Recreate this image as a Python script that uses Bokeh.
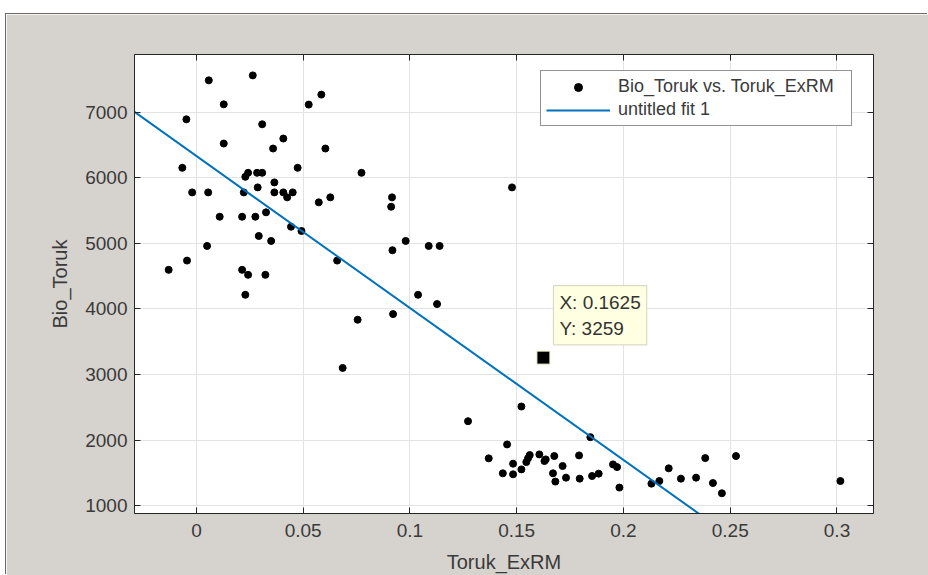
from bokeh.plotting import figure
from bokeh.models import (Range1d, FixedTicker, LinearAxis, Legend, LegendItem,
                          Label, Spacer, ColumnDataSource)
from bokeh.layouts import column
from bokeh.embed import file_html
from bokeh.resources import INLINE

# ---------------- data ----------------
toruk_exrm = [0.0058, 0.0264, 0.0128, -0.0047, 0.0308, 0.0407, 0.0128, 0.0359, 0.0526, 0.0585,
              0.0604, -0.0066, 0.0229, 0.0242, 0.0284, 0.0308, 0.0474, 0.0773, -0.002, 0.0055,
              0.0222, 0.0287, 0.0365, 0.0365, 0.0407, 0.0425, 0.0451, 0.0573, 0.0627, 0.0916,
              0.0912, 0.0109, 0.0214, 0.0276, 0.0326, 0.0443, 0.0492, 0.0292, 0.035, 0.005,
              0.0918, 0.0659, -0.0044, -0.013, 0.0214, 0.0242, 0.0323, 0.0229, 0.0755, 0.0921,
              0.0685, 0.1478, 0.098, 0.1088, 0.1139, 0.1038, 0.1127, 0.1272, 0.1522, 0.1845,
              0.1455, 0.1369, 0.1435, 0.1483, 0.1483, 0.1522, 0.1545, 0.1553, 0.1561, 0.1606,
              0.163, 0.1636, 0.1676, 0.1715, 0.167, 0.1681, 0.1731, 0.1792, 0.1795, 0.1853,
              0.1884, 0.1951, 0.197, 0.1981, 0.2131, 0.2168, 0.2212, 0.2269, 0.234, 0.2383,
              0.2419, 0.2461, 0.2527, 0.3016, 0.1625]
bio_toruk = [7482, 7558, 7117, 6889, 6813, 6596, 6520, 6444, 7113, 7265,
             6444, 6150, 6013, 6074, 6074, 6074, 6150, 6074, 5776, 5776,
             5776, 5852, 5928, 5776, 5776, 5700, 5776, 5624, 5700, 5700,
             5557, 5405, 5405, 5405, 5472, 5253, 5188, 5112, 5036, 4960,
             4895, 4737, 4737, 4596, 4596, 4520, 4520, 4216, 3836, 3922,
             3102, 5852, 5036, 4960, 4960, 4216, 4075, 2291, 2514, 2048,
             1937, 1725, 1497, 1482, 1644, 1557, 1668, 1725, 1775, 1785,
             1684, 1709, 1760, 1608, 1497, 1371, 1431, 1770, 1416, 1456,
             1492, 1633, 1592, 1280, 1340, 1380, 1573, 1416, 1431, 1729,
             1349, 1193, 1760, 1380, 3259]

# linear fit (untitled fit 1): y = p1*x + p2
fit_p1 = -23150.0
fit_p2 = 6330.0

# data tip
tip_x = [0.1625]
tip_y = [3259]

# axes
x_limits = [-0.029, 0.3171]
y_limits = [885, 7876]
x_ticks = [0, 0.05, 0.1, 0.15, 0.2, 0.25, 0.3]
x_tick_labels = ["0", "0.05", "0.1", "0.15", "0.2", "0.25", "0.3"]
y_ticks = [1000, 2000, 3000, 4000, 5000, 6000, 7000]
y_tick_labels = ["1000", "2000", "3000", "4000", "5000", "6000", "7000"]

series_label = "Bio_Toruk vs. Toruk_ExRM"
fit_label = "untitled fit 1"
x_title = "Toruk_ExRM"
y_title = "Bio_Toruk"

# ---------------- styles ----------------
FONT = "Liberation Sans"
BG = "#D6D3CE"
AX = "#262626"
TXT = "#3a3a3a"
BLUE = "#0072BD"
GRID = "#E3E3E3"

p = figure(width=922, height=561,
           x_range=Range1d(x_limits[0], x_limits[1]),
           y_range=Range1d(y_limits[0], y_limits[1]),
           output_backend="svg", toolbar_location=None,
           min_border_left=128, min_border_right=55,
           min_border_top=40, min_border_bottom=61,
           border_fill_color=BG, background_fill_color="white",
           x_axis_label=x_title, y_axis_label=y_title)
p.outline_line_color = AX
p.outline_line_width = 1

xt = FixedTicker(ticks=x_ticks)
yt = FixedTicker(ticks=y_ticks)


def style_axis(ax, ticker, overrides, show_labels):
    ax.ticker = ticker
    ax.major_label_overrides = overrides
    ax.minor_tick_line_color = None
    ax.major_tick_in = 6
    ax.major_tick_out = 0
    ax.major_tick_line_color = AX
    ax.axis_line_color = AX
    ax.axis_line_width = 1
    ax.major_label_text_font = FONT
    ax.major_label_text_color = TXT
    if show_labels:
        ax.major_label_text_font_size = "19px"
    else:
        ax.major_label_text_font_size = "0px"
        ax.major_label_text_alpha = 0


x_over = {v: s for v, s in zip(x_ticks, x_tick_labels)}
y_over = {v: s for v, s in zip(y_ticks, y_tick_labels)}

style_axis(p.xaxis[0], xt, x_over, True)
style_axis(p.yaxis[0], yt, y_over, True)
p.xaxis[0].major_label_standoff = 10
p.yaxis[0].major_label_standoff = 7
for ax in (p.xaxis[0], p.yaxis[0]):
    ax.axis_label_text_font = FONT
    ax.axis_label_text_font_size = "20px"
    ax.axis_label_text_font_style = "normal"
    ax.axis_label_text_color = TXT
p.xaxis[0].axis_label_standoff = 11
p.yaxis[0].axis_label_standoff = 11

top_ax = LinearAxis()
right_ax = LinearAxis()
style_axis(top_ax, xt, {}, False)
style_axis(right_ax, yt, {}, False)
p.add_layout(top_ax, "above")
p.add_layout(right_ax, "right")

p.xgrid.ticker = xt
p.ygrid.ticker = yt
p.xgrid.grid_line_color = GRID
p.ygrid.grid_line_color = GRID

# data points
src = ColumnDataSource(dict(x=toruk_exrm, y=bio_toruk))
r_pts = p.scatter("x", "y", source=src, marker="circle", size=7,
                  fill_color="black", line_color="black")

# fit line across the x limits
fit_x = list(x_limits)
fit_y = [fit_p1 * v + fit_p2 for v in fit_x]
r_fit = p.line(fit_x, fit_y, line_color=BLUE, line_width=2)

# data tip marker and box
p.scatter(tip_x, tip_y, marker="square", size=13, fill_color="black",
          line_color="#F2F2C8", line_width=1)
tip = Label(x=tip_x[0], y=tip_y[0], x_offset=10, y_offset=72,
            anchor="top_left",
            text=f"X: {tip_x[0]}\nY: {tip_y[0]}",
            text_font=FONT, text_font_size="19px", text_color="#333333",
            text_line_height=1.25,
            background_fill_color="#FFFFE1", background_fill_alpha=1,
            border_line_color="#D2D2BE", border_line_width=1,
            padding=6)
p.add_layout(tip)

legend = Legend(items=[LegendItem(label=series_label, renderers=[r_pts]),
                       LegendItem(label=fit_label, renderers=[r_fit])],
                location=(406, 387), margin=0, padding=5, spacing=2,
                glyph_height=20, glyph_width=64, label_height=20,
                label_standoff=8, label_width=228,
                label_text_font=FONT, label_text_font_size="18px",
                label_text_color=TXT,
                border_line_color=AX, border_line_width=1,
                background_fill_color="white", background_fill_alpha=1)
p.add_layout(legend, "center")

p.styles = {"box-shadow": "-1px -1px 0 0 #6a6a6a"}

root = column(Spacer(width=922, height=14), p,
              styles={"margin-left": "6px"})

open("out.html", "w").write(file_html(root, INLINE))
